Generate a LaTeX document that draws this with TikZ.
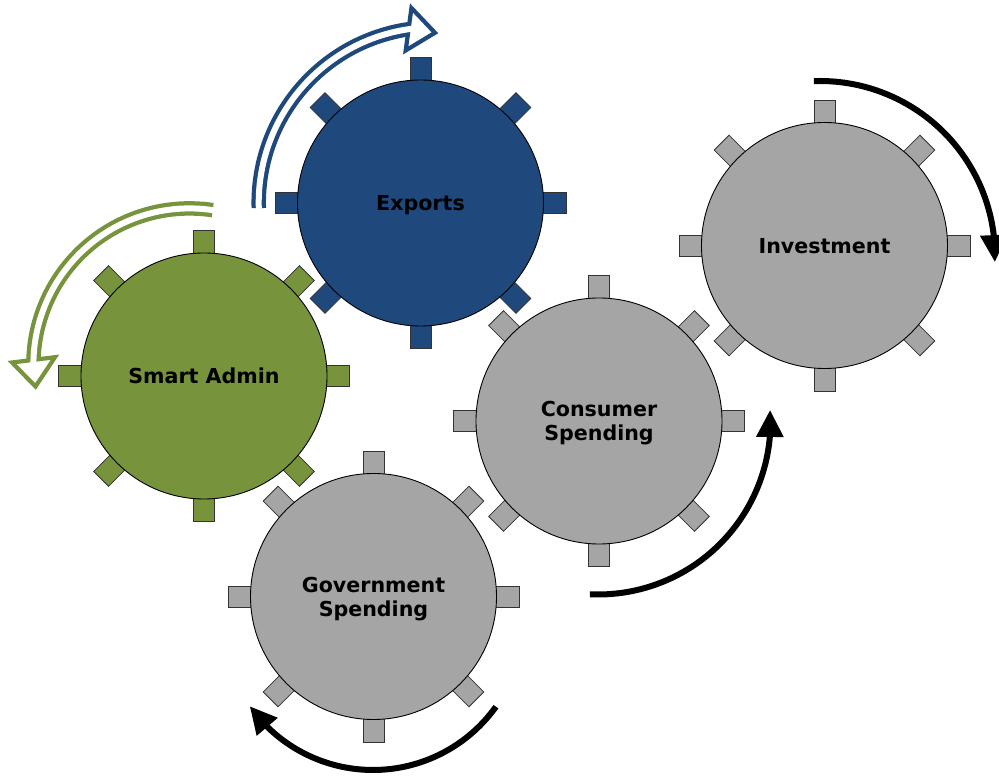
\documentclass[tikz,border=0pt]{standalone}
\usepackage{fontspec}
\setmainfont{DejaVu Sans}
\usetikzlibrary{arrows.meta,bending,calc}
\definecolor{gblue}{HTML}{1F497D}
\definecolor{ggreen}{HTML}{77933C}
\definecolor{ggray}{HTML}{A5A5A5}
\tikzset{
  gearbody/.style={circle, minimum size=246pt, inner sep=0pt, draw=black, line width=0.9pt,
    font=\fontsize{20.6}{24}\selectfont\bfseries, align=center, text depth=0pt},
  toothbox/.style={draw=black!80, line width=0.8pt},
  turnarrow/.style={draw=black, line width=6pt, -{Triangle[length=27pt,width=26pt]}},
  bandouter/.style={line width=14.5pt},
  bandinner/.style={line width=6pt, draw=white},
  hollowhead/.style={line width=4.2pt, fill=white, line join=miter},
}
\newcommand\drawgearteeth[2]{%
  \begin{scope}[shift={(#1)}]
    \foreach \a in {0,45,...,315}
      \draw[toothbox, fill=#2, rotate=\a] (100,-10.5) rectangle (145.5,10.5);
  \end{scope}}
\begin{document}
\begin{tikzpicture}[x=1pt,y=1pt]
\useasboundingbox (0,0) rectangle (999,776);
% gear centres
\coordinate (cE) at (420.5,573);
\coordinate (cS) at (204,400);
\coordinate (cC) at (599,355);
\coordinate (cI) at (824.5,530.5);
\coordinate (cG) at (373.5,179.5);
% arc centres
\coordinate (aB) at (434.3,573.1);
\coordinate (aN) at (189.4,411.6);
\coordinate (aI) at (820,520);
\coordinate (aC) at (598,354);
\coordinate (aV) at (373,157);

% gears
\drawgearteeth{cG}{ggray}
\node[gearbody, fill=ggray] (government) at (cG) {Government\\Spending};
\drawgearteeth{cC}{ggray}
\node[gearbody, fill=ggray] (consumer) at (cC) {Consumer\\Spending};
\drawgearteeth{cI}{ggray}
\node[gearbody, fill=ggray] (investment) at (cI) {Investment};
\drawgearteeth{cS}{ggreen}
\node[gearbody, fill=ggreen] (smart) at (cS) {Smart Admin};
\drawgearteeth{cE}{gblue}
\node[gearbody, fill=gblue] (exports) at (cE) {Exports};

% blue hollow arrow
\draw[hollowhead, draw=gblue] (411.45,768) -- (435,743.2) -- (405.7,725.6) -- cycle;
\draw[bandouter, draw=gblue] ([shift={(181.7:175.6)}]aB) arc[start angle=181.7, end angle=98.4, radius=175.6];
\draw[bandinner] ([shift={(181.9:175.6)}]aB) arc[start angle=181.9, end angle=97.3, radius=175.6];

% green hollow arrow
\draw[hollowhead, draw=ggreen] (12,413.5) -- (35.5,389.5) -- (55,418.8) -- cycle;
\draw[bandouter, draw=ggreen] ([shift={(81.4:156)}]aN) arc[start angle=81.4, end angle=178.4, radius=156];
\draw[bandinner] ([shift={(81.2:156)}]aN) arc[start angle=81.2, end angle=179.6, radius=156];

% black turning arrows
\draw[turnarrow] ([shift={(92:175)}]aI) arc[start angle=92, end angle=-2, radius=175];
\draw[turnarrow] ([shift={(267.3:172.5)}]aC) arc[start angle=267.3, end angle=364, radius=172.5];
\draw[turnarrow] ([shift={(-35.5:151)}]aV) arc[start angle=-35.5, end angle=-144.7, radius=151];
\end{tikzpicture}
\end{document}
